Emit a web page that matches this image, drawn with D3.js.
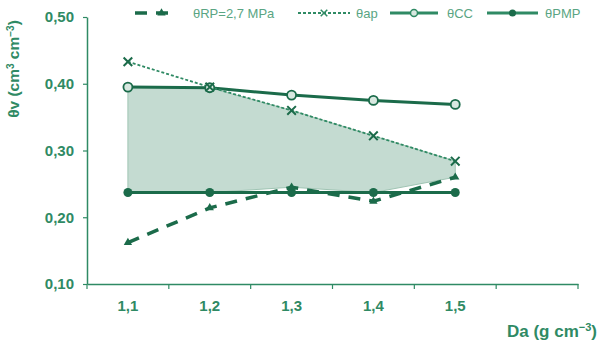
<!DOCTYPE html>
<html><head><meta charset="utf-8">
<script src="https://cdn.jsdelivr.net/npm/d3@7"></script>
<style>body{margin:0;background:#fff}svg{display:block}</style>
</head><body>
<script>
const categories = ["1,1","1,2","1,3","1,4","1,5",""];
const thetaRP  = [0.162,0.214,0.245,0.224,0.260];
const thetaAP  = [0.433,0.395,0.360,0.322,0.284];
const thetaCC  = [0.395,0.394,0.383,0.375,0.369];
const thetaPMP = [0.237,0.237,0.237,0.237,0.237];
const yTicks = [0.10,0.20,0.30,0.40,0.50];
const seriesNames = ["θRP=2,7 MPa","θap","θCC","θPMP"];

const W=598,H=344;
const dark="#1b6b4a", mid="#2f8a64", fill="#c4dbd1";
const svg=d3.select("body").append("svg").attr("width",W).attr("height",H);

const x=d3.scaleBand().domain(categories.map((c,i)=>i)).range([87,578]);
const y=d3.scaleLinear().domain([0.10,0.50]).range([284,17]);
const cx=i=>x(i)+x.bandwidth()/2;

// shaded range
const n=thetaCC.length;
const upper=d3.range(n).map(i=>Math.min(thetaCC[i],thetaAP[i]));
const lower=d3.range(n).map(i=>Math.max(thetaPMP[i],thetaRP[i]));
const area=d3.area().x((d,i)=>cx(i)).y0((d,i)=>y(lower[i])).y1(d=>y(d));
svg.append("path").attr("d",area(upper)).attr("fill",fill).attr("stroke","#9fc4b3").attr("stroke-width",1);

// axes
const yAxis=svg.append("g").attr("transform","translate(87,0)")
  .call(d3.axisLeft(y).tickValues(yTicks).tickFormat(d=>d3.format(".2f")(d).replace(".",",")).tickSize(4).tickSizeOuter(0));
const xAxis=svg.append("g").attr("transform","translate(0,284)")
  .call(d3.axisBottom(x).tickFormat(i=>categories[i]).tickSize(0).tickSizeOuter(0));
[yAxis,xAxis].forEach(g=>{g.select(".domain").attr("stroke",mid).attr("stroke-width",1.5);
  g.selectAll("line").attr("stroke",mid).attr("stroke-width",1.2);
  g.selectAll("text").attr("fill",mid).attr("font-family","Liberation Sans, Arial, sans-serif").attr("font-weight","bold").attr("font-size",15);});
yAxis.selectAll("text").attr("x",-13);
xAxis.selectAll("text").attr("dy",null).attr("y",27);
// between-category tick marks
const bounds=d3.range(categories.length+1).map(i=>i<categories.length?x(i):x(categories.length-1)+x.bandwidth());
xAxis.selectAll(".btick").data(bounds).join("line").attr("class","btick")
  .attr("x1",d=>d).attr("x2",d=>d).attr("y1",0).attr("y2",5).attr("stroke",mid).attr("stroke-width",1.2);

// lines
const line=d3.line().x((d,i)=>cx(i)).y(d=>y(d));
svg.append("path").attr("d",line(thetaCC)).attr("fill","none").attr("stroke",dark).attr("stroke-width",3);
svg.append("path").attr("d",line(thetaPMP)).attr("fill","none").attr("stroke",dark).attr("stroke-width",3);
svg.append("path").attr("d",line(thetaAP)).attr("fill","none").attr("stroke",mid).attr("stroke-width",1.8).attr("stroke-dasharray","3,2");
svg.append("path").attr("d",line(thetaRP)).attr("fill","none").attr("stroke",dark).attr("stroke-width",3.5).attr("stroke-dasharray","12,9");

// markers
svg.selectAll(".cc").data(thetaCC).join("circle").attr("cx",(d,i)=>cx(i)).attr("cy",d=>y(d)).attr("r",4.5)
  .attr("fill","#d8e8e0").attr("stroke",dark).attr("stroke-width",1.8);
svg.selectAll(".pmp").data(thetaPMP).join("circle").attr("cx",(d,i)=>cx(i)).attr("cy",d=>y(d)).attr("r",4.5).attr("fill",dark);
const xs=d3.symbol().type(d3.symbolX).size(50);
svg.selectAll(".ap").data(thetaAP).join("path").attr("d",xs).attr("transform",(d,i)=>`translate(${cx(i)},${y(d)})`)
  .attr("fill","none").attr("stroke",dark).attr("stroke-width",2);
const tri=d3.symbol().type(d3.symbolTriangle).size(30);
svg.selectAll(".rp").data(thetaRP).join("path").attr("d",tri).attr("transform",(d,i)=>`translate(${cx(i)},${y(d)})`).attr("fill",dark);

// legend
const lg=svg.append("g").attr("font-family","Liberation Sans, Arial, sans-serif").attr("font-size",13).attr("fill","#5aa583");
const leg=[{x1:135,x2:172,tx:193},{x1:298,x2:350,tx:356},{x1:390,x2:438,tx:447},{x1:487,x2:538,tx:545}];
const ly=13;
lg.append("line").attr("x1",leg[0].x1).attr("x2",leg[0].x2).attr("y1",ly).attr("y2",ly).attr("stroke",dark).attr("stroke-width",3.5).attr("stroke-dasharray","12,9");
lg.append("path").attr("d",tri).attr("transform",`translate(${(leg[0].x1+leg[0].x2)/2+8},${ly})`).attr("fill",dark);
lg.append("line").attr("x1",leg[1].x1).attr("x2",leg[1].x2).attr("y1",ly).attr("y2",ly).attr("stroke",mid).attr("stroke-width",1.8).attr("stroke-dasharray","3,2");
lg.append("path").attr("d",d3.symbol().type(d3.symbolX).size(30)).attr("transform",`translate(${(leg[1].x1+leg[1].x2)/2},${ly})`).attr("stroke",mid).attr("stroke-width",1.5).attr("fill","none");
lg.append("line").attr("x1",leg[2].x1).attr("x2",leg[2].x2).attr("y1",ly).attr("y2",ly).attr("stroke",mid).attr("stroke-width",3);
lg.append("circle").attr("cx",(leg[2].x1+leg[2].x2)/2).attr("cy",ly).attr("r",3.5).attr("fill","#d8e8e0").attr("stroke",mid).attr("stroke-width",1.5);
lg.append("line").attr("x1",leg[3].x1).attr("x2",leg[3].x2).attr("y1",ly).attr("y2",ly).attr("stroke",mid).attr("stroke-width",3);
lg.append("circle").attr("cx",(leg[3].x1+leg[3].x2)/2).attr("cy",ly).attr("r",3.5).attr("fill",dark);
leg.forEach((l,i)=>lg.append("text").attr("x",l.tx).attr("y",ly+5).text(seriesNames[i]));

// axis titles
const yt=svg.append("text").attr("transform","translate(19,69) rotate(-90)").attr("text-anchor","middle")
  .attr("font-family","Liberation Sans, Arial, sans-serif").attr("font-weight","bold").attr("font-size",15.5).attr("fill",mid);
yt.append("tspan").text("θv (cm");yt.append("tspan").attr("font-size",10).attr("dy",-5).text("3");
yt.append("tspan").attr("dy",5).text(" cm");yt.append("tspan").attr("font-size",10).attr("dy",-5).text("−3");
yt.append("tspan").attr("dy",5).text(")");
const xt=svg.append("text").attr("x",597).attr("y",337).attr("text-anchor","end")
  .attr("font-family","Liberation Sans, Arial, sans-serif").attr("font-weight","bold").attr("font-size",17).attr("fill",mid);
xt.append("tspan").text("Da (g cm");xt.append("tspan").attr("font-size",11).attr("dy",-6).text("−3");
xt.append("tspan").attr("dy",6).text(")");
</script>
</body></html>
